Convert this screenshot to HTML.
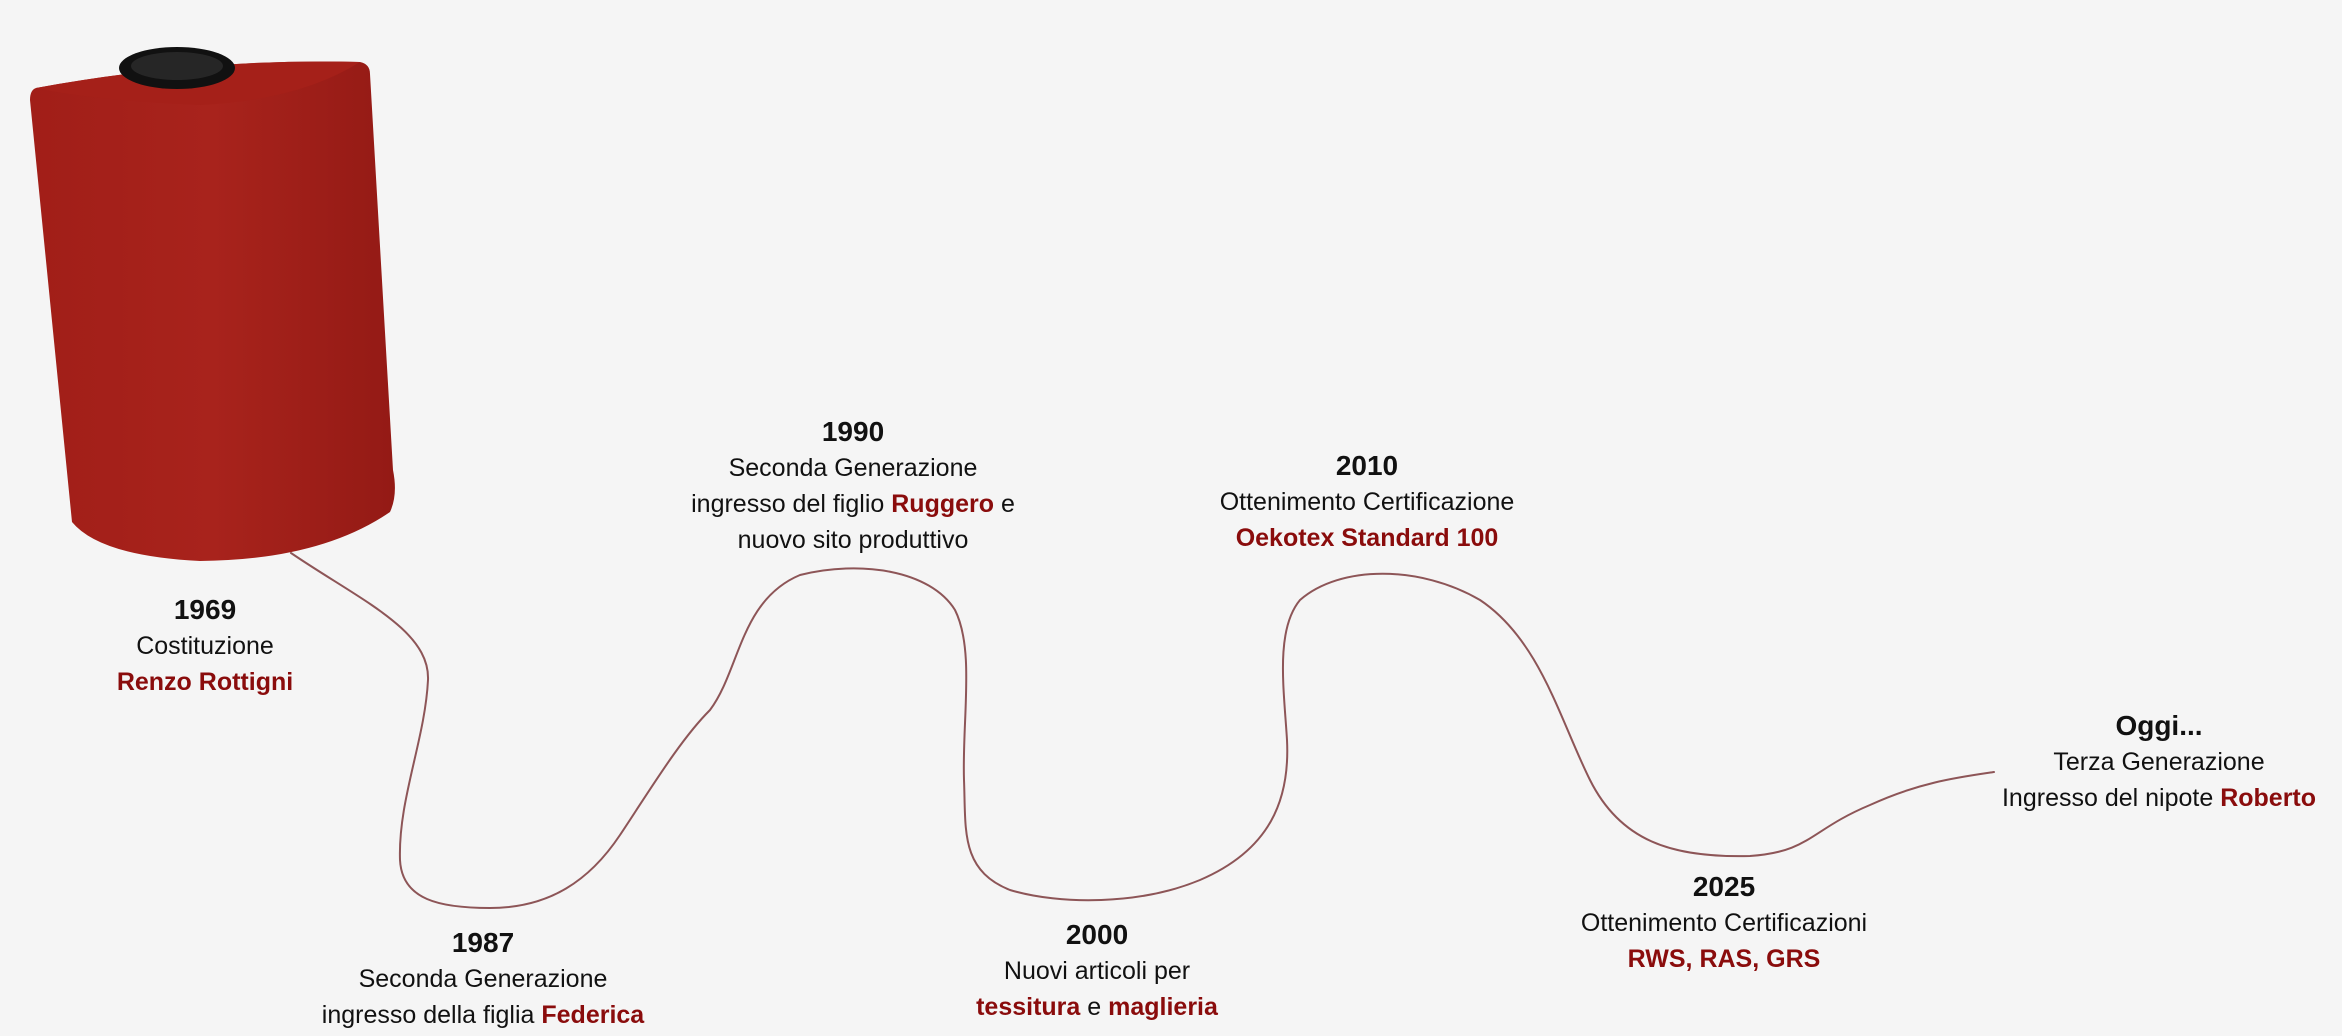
<!DOCTYPE html>
<html><head><meta charset="utf-8">
<style>
html,body{margin:0;padding:0;background:#f5f5f5;}
body{width:2342px;height:1036px;position:relative;overflow:hidden;font-family:"Liberation Sans",sans-serif;color:#111;}
.b{position:absolute;transform:translateX(-50%);text-align:center;white-space:nowrap;line-height:36px;font-size:25px;}
.y{font-weight:bold;font-size:28px;}
.r{color:#8a0c0c;font-weight:bold;}
svg{position:absolute;left:0;top:0;}
</style></head><body>
<svg width="2342" height="1036" viewBox="0 0 2342 1036">
<defs>
<linearGradient id="g" x1="0" y1="0" x2="1" y2="0">
<stop offset="0" stop-color="#a11e18"/><stop offset="0.5" stop-color="#a8231c"/><stop offset="1" stop-color="#941a15"/>
</linearGradient>
</defs>
<path d="M36,88 Q200,58 360,62 Q370,64 370,74 L393,470 Q398,495 390,512 Q320,560 200,561 Q100,556 72,522 L30,100 Q30,90 36,88 Z" fill="url(#g)"/>
<path d="M36,88 Q200,58 360,62 Q300,100 200,105 Q90,100 36,88Z" fill="#a52019"/>
<ellipse cx="177" cy="68" rx="58" ry="21" fill="#111"/>
<ellipse cx="177" cy="66" rx="46" ry="14" fill="#262626"/>
<path d="M291,553 C360,600 430,630 428,680 C425,740 398,800 400,860 C402,900 440,908 490,908 C550,908 590,880 620,835 C650,790 680,740 710,710 C740,670 740,600 800,575 C860,560 930,570 955,610 C975,650 962,720 964,780 C966,830 960,870 1010,890 C1060,905 1140,905 1200,880 C1270,850 1290,800 1287,740 C1284,690 1275,630 1300,600 C1340,565 1420,565 1480,600 C1540,640 1560,720 1590,780 C1620,840 1670,858 1750,856 C1810,852 1810,830 1870,805 C1920,782 1960,777 1994,772" fill="none" stroke="#8d5557" stroke-width="2" stroke-linecap="round"/>
</svg>

<div class="b" style="left:205px;top:592px;"><div class="y">1969</div><div>Costituzione</div><div class="r">Renzo Rottigni</div></div>
<div class="b" style="left:483px;top:925px;"><div class="y">1987</div><div>Seconda Generazione</div><div>ingresso della figlia <span class="r">Federica</span></div></div>
<div class="b" style="left:853px;top:414px;"><div class="y">1990</div><div>Seconda Generazione</div><div>ingresso del figlio <span class="r">Ruggero</span> e</div><div>nuovo sito produttivo</div></div>
<div class="b" style="left:1097px;top:917px;"><div class="y">2000</div><div>Nuovi articoli per</div><div><span class="r">tessitura</span> e <span class="r">maglieria</span></div></div>
<div class="b" style="left:1367px;top:448px;"><div class="y">2010</div><div>Ottenimento Certificazione</div><div class="r">Oekotex Standard 100</div></div>
<div class="b" style="left:1724px;top:869px;"><div class="y">2025</div><div>Ottenimento Certificazioni</div><div class="r">RWS, RAS, GRS</div></div>
<div class="b" style="left:2159px;top:708px;"><div class="y">Oggi...</div><div>Terza Generazione</div><div>Ingresso del nipote <span class="r">Roberto</span></div></div>
</body></html>
